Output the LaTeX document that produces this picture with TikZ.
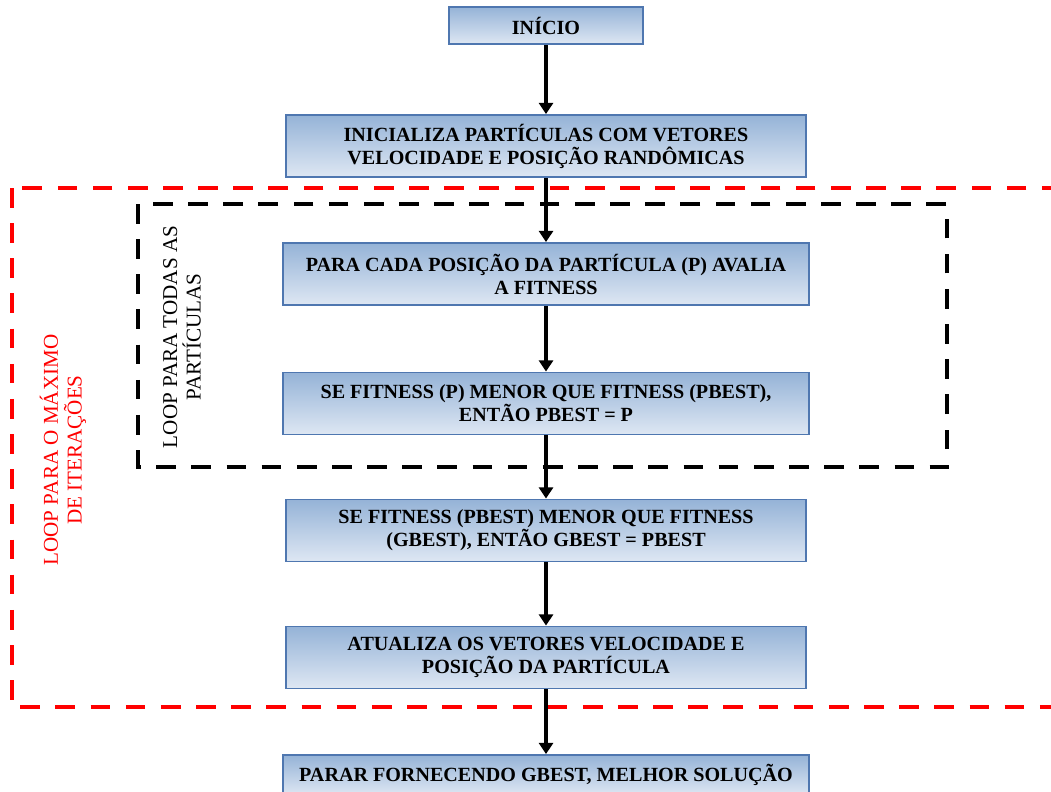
\documentclass[tikz,border=0pt]{standalone}
\usepackage{fontspec}
\setmainfont{Liberation Serif}
\usetikzlibrary{arrows.meta}

\definecolor{boxtop}{RGB}{149,179,215}
\definecolor{boxbot}{RGB}{222,231,243}
\definecolor{boxedge}{RGB}{79,119,176}

\tikzset{
  stepbox/.style={draw=boxedge, line width=1.3pt, top color=boxtop, bottom color=boxbot,
    align=center, inner sep=0pt, minimum height=1.55cm,
    font=\fontsize{14.3}{16.4}\selectfont\bfseries},
  flow/.style={-{Triangle[width=10pt,length=8pt]}, line width=2.2pt},
  looplabel/.style={rotate=90, align=center, font=\fontsize{15}{16.8}\selectfont},
}

\begin{document}
\begin{tikzpicture}[x=0.025cm, y=-0.025cm]

% === Frame (pixel grid of the page) ===
\useasboundingbox (0,0) rectangle (1051,791);
\clip (0,0) rectangle (1051,791);

% === Loop frames ===
% outer loop: iterations (runs off the right edge)
\draw[red, line width=3.5pt, dash pattern=on 14pt off 11pt]
    (12,188) rectangle (1090,707);
% inner loop: particles
\draw[black, line width=3.2pt, dash pattern=on 14pt off 11pt]
    (138,204) rectangle (947,467);

% === Steps ===
\def\midX{546}
\node[stepbox, minimum width=4.83cm, minimum height=0.93cm] (inicio) at (\midX,25.5) {INÍCIO};
\node[stepbox, minimum width=12.98cm] (init) at (\midX,146)
    {INICIALIZA PARTÍCULAS COM VETORES\\VELOCIDADE E POSIÇÃO RANDÔMICAS};
\node[stepbox, minimum width=13.15cm] (avalia) at (\midX,274)
    {PARA CADA POSIÇÃO DA PARTÍCULA (P) AVALIA\\A FITNESS};
\node[stepbox, minimum width=13.15cm] (pbest) at (\midX,403.5)
    {SE FITNESS (P) MENOR QUE FITNESS (PBEST),\\ENTÃO PBEST = P};
\node[stepbox, minimum width=13cm] (gbest) at (\midX,530.5)
    {SE FITNESS (PBEST) MENOR QUE FITNESS\\(GBEST), ENTÃO GBEST = PBEST};
\node[stepbox, minimum width=13cm] (atualiza) at (\midX,657.5)
    {ATUALIZA OS VETORES VELOCIDADE E\\POSIÇÃO DA PARTÍCULA};
\node[stepbox, minimum width=13.15cm, minimum height=1cm] (parar) at (\midX,775)
    {PARAR FORNECENDO GBEST, MELHOR SOLUÇÃO};

% === Flow ===
\draw[flow] (inicio) -- (init);
\draw[flow] (init) -- (avalia);
\draw[flow] (avalia) -- (pbest);
\draw[flow] (pbest) -- (gbest);
\draw[flow] (gbest) -- (atualiza);
\draw[flow] (atualiza) -- (parar);

% === Loop labels ===
\node[looplabel, text=red] (itlabel) at (63,450) {LOOP PARA O MÁXIMO\\DE ITERAÇÕES};
\node[looplabel] (ptlabel) at (182,337) {LOOP PARA TODAS AS\\PARTÍCULAS};

\end{tikzpicture}
\end{document}
